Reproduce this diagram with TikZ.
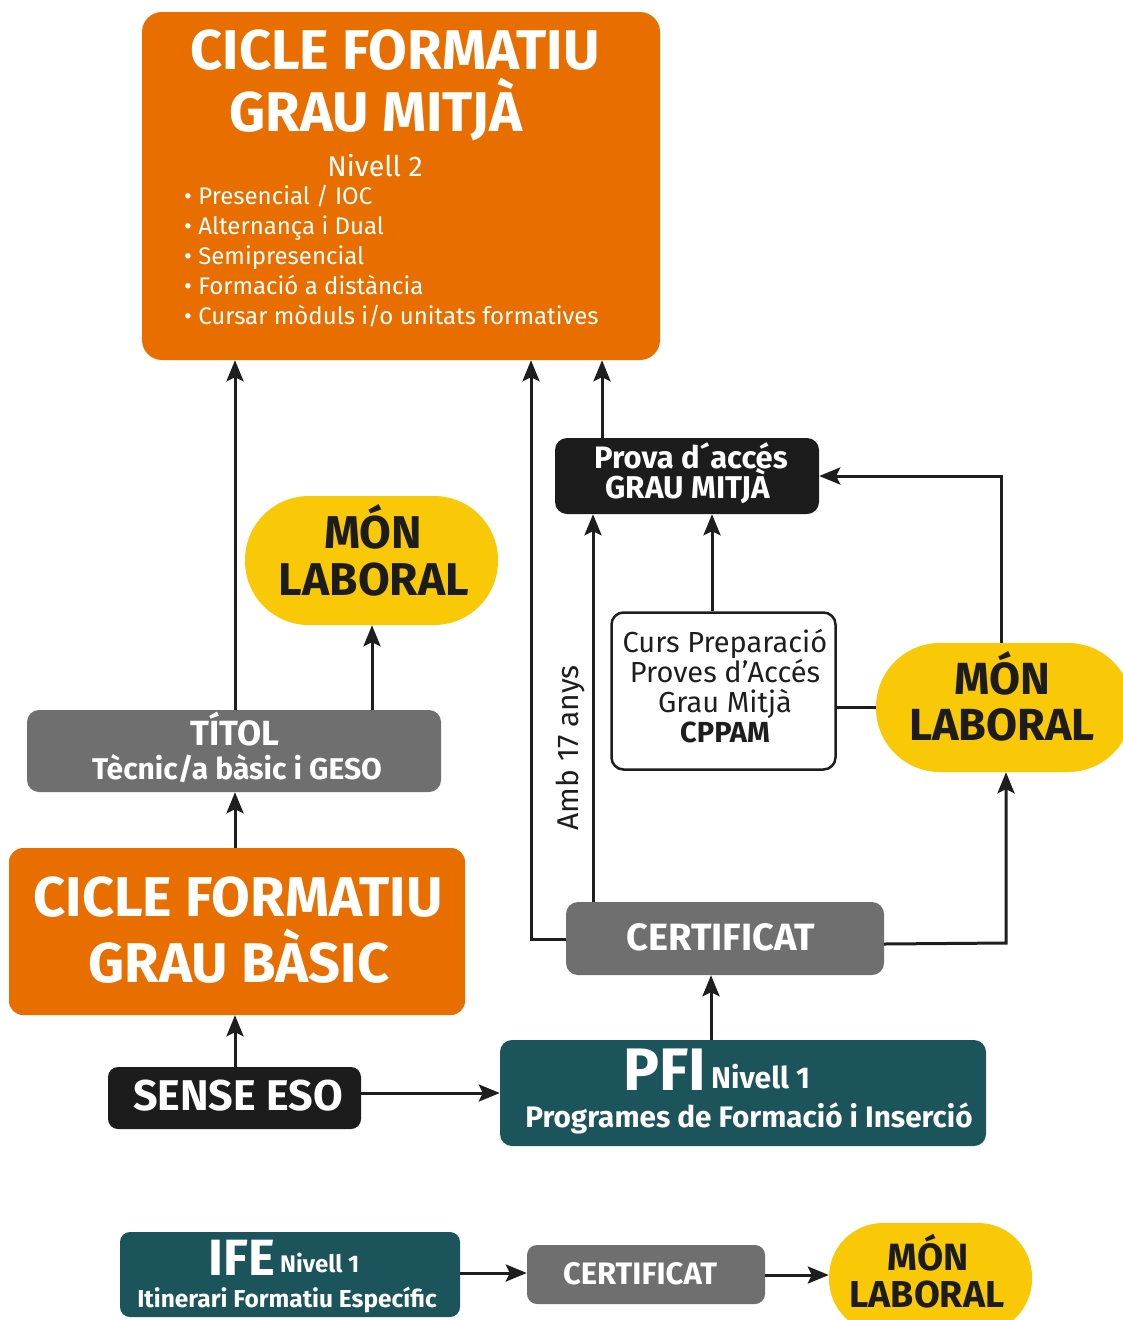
\documentclass[tikz,border=0pt]{standalone}
\usepackage{fontspec}
\setmainfont{Fira Sans}
\usetikzlibrary{arrows.meta}
\definecolor{corange}{RGB}{233,110,0}
\definecolor{cyellow}{RGB}{249,200,6}
\definecolor{cgray}{RGB}{111,111,111}
\definecolor{cteal}{RGB}{27,84,91}
\definecolor{cblack}{RGB}{28,28,28}
\definecolor{cline}{RGB}{30,30,30}
\newcommand\fsz[1]{\fontsize{#1}{#1}\selectfont}
\begin{document}
\begin{tikzpicture}[x=1pt,y=-1pt,
  box/.style={rounded corners=12pt, inner sep=0pt, anchor=center},
  pill/.style={inner sep=0pt, anchor=center, fill=cyellow},
  tb/.style={inner sep=0pt, anchor=base},
  tbw/.style={inner sep=0pt, anchor=base west, text=white, font=\fsz{24}},
  wt/.style={text=white},
  arr/.style={line width=3pt, draw=cline, -{Stealth[length=21pt,width=17pt,inset=4pt]}},
  ln/.style={line width=3pt, draw=cline}]
\useasboundingbox (0,0) rectangle (1123,1320);

% ---------- boxes ----------
\node[box, fill=corange, rounded corners=20pt, minimum width=518pt, minimum height=348pt] (cfgm) at (401,186) {};
\node[box, fill=cblack, minimum width=264pt, minimum height=76pt] (prova) at (687,476) {};
\node[pill, rounded corners=64pt, minimum width=253pt, minimum height=129pt] (mon1) at (371.5,560.5) {};
\node[box, fill=cgray, minimum width=414pt, minimum height=82pt] (titol) at (234,751) {};
\node[box, fill=corange, rounded corners=14pt, minimum width=456pt, minimum height=167pt] (cfgb) at (237,931.5) {};
\node[box, fill=cblack, rounded corners=10pt, minimum width=253pt, minimum height=62pt] (sense) at (234.5,1098) {};
\node[box, fill=cteal, minimum width=486pt, minimum height=106pt] (pfi) at (743,1093) {};
\node[box, fill=cgray, minimum width=318pt, minimum height=73pt] (cert) at (725,938.5) {};
\node[box, draw=cline, line width=2.5pt, fill=white, minimum width=224pt, minimum height=157pt] (cppam) at (723.5,691) {};
\node[pill, rounded corners=64pt, minimum width=256pt, minimum height=129pt] (mon2) at (1004,707.5) {};
\node[box, fill=cteal, rounded corners=10pt, minimum width=340pt, minimum height=85pt] (ife) at (290,1274.5) {};
\node[box, fill=cgray, rounded corners=10pt, minimum width=238pt, minimum height=59pt] (cert2) at (646,1274.5) {};
\node[pill, rounded corners=54pt, minimum width=203pt, minimum height=110pt] (mon3) at (930.5,1278) {};

% ---------- texts ----------
\node[tb, wt, font=\bfseries\fsz{56}] (cfgm1) at (395,69) {CICLE FORMATIU};
\node[tb, wt, font=\bfseries\fsz{56}] (cfgm2) at (376,131) {GRAU MITJÀ};
\node[tb, wt, font=\fsz{28.5}] (cfgm3) at (375,176) {Nivell 2};
\node[tbw] (b1) at (184,204) {• Presencial / IOC};
\node[tbw] (b2) at (184,234) {• Alternança i Dual};
\node[tbw] (b3) at (184,264) {• Semipresencial};
\node[tbw] (b4) at (184,294) {• Formació a distància};
\node[tbw] (b5) at (184,324) {• Cursar mòduls i/o unitats formatives};

\node[tb, wt, font=\bfseries\fsz{31}] (prova1) at (691,468) {Prova d´accés};
\node[tb, wt, font=\bfseries\fsz{31.5}] (prova2) at (688,498) {GRAU MITJÀ};

\node[tb, text=cblack, font=\bfseries\fsz{46}] (mon1a) at (373,548) {MÓN};
\node[tb, text=cblack, font=\bfseries\fsz{46}] (mon1b) at (374,595) {LABORAL};

\node[tb, wt, font=\bfseries\fsz{35}] (titol1) at (235,745) {TÍTOL};
\node[tb, wt, font=\bfseries\fsz{30}] (titol2) at (237,779) {Tècnic/a bàsic i GESO};

\node[tb, wt, font=\bfseries\fsz{56}] (cfgb1) at (238,916) {CICLE FORMATIU};
\node[tb, wt, font=\bfseries\fsz{56}] (cfgb2) at (239,982) {GRAU BÀSIC};

\node[tb, wt, font=\bfseries\fsz{43}] (sense1) at (238,1110) {SENSE ESO};

\node[tb, wt, font=\bfseries\fsz{60}] (pfi1) at (665,1090) {PFI};
\node[tb, wt, font=\bfseries\fsz{30}, anchor=base west] (pfi2) at (711,1088) {Nivell 1};
\node[tb, wt, font=\bfseries\fsz{29.7}] (pfi3) at (749,1127) {Programes de Formació i Inserció};

\node[tb, wt, font=\bfseries\fsz{38}] (cert1) at (721,950) {CERTIFICAT};

\node[tb, text=cline, font=\fsz{29}] (cp1) at (725,652) {Curs Preparació};
\node[tb, text=cline, font=\fsz{29}] (cp2) at (725,682) {Proves d’Accés};
\node[tb, text=cline, font=\fsz{29}] (cp3) at (725,712) {Grau Mitjà};
\node[tb, text=cline, font=\bfseries\fsz{29}] (cp4) at (725,742) {CPPAM};

\node[tb, text=cline, font=\fsz{30}, rotate=90] (amb) at (578,748) {Amb 17 anys};

\node[tb, text=cblack, font=\bfseries\fsz{45}] (mon2a) at (1002,694) {MÓN};
\node[tb, text=cblack, font=\bfseries\fsz{45}] (mon2b) at (1002,740) {LABORAL};

\node[tb, wt, font=\bfseries\fsz{51}] (ife1) at (242,1275) {IFE};
\node[tb, wt, font=\bfseries\fsz{24}, anchor=base west] (ife2) at (280,1272) {Nivell 1};
\node[tb, wt, font=\bfseries\fsz{24.5}] (ife3) at (287,1307) {Itinerari Formatiu Específic};

\node[tb, wt, font=\bfseries\fsz{31}] (cert2a) at (640,1284) {CERTIFICAT};

\node[tb, text=cblack, font=\bfseries\fsz{38}] (mon3a) at (928,1270) {MÓN};
\node[tb, text=cblack, font=\bfseries\fsz{37.5}] (mon3b) at (927,1307) {LABORAL};

% ---------- connectors ----------
\draw[arr] (235,0 |- titol.north) -- (235,0 |- cfgm.south);
\draw[arr] (372,0 |- titol.north) -- (372,0 |- mon1.south);
\draw[arr] (235,0 |- cfgb.north) -- (235,0 |- titol.south);
\draw[arr] (235,0 |- sense.north) -- (235,0 |- cfgb.south);
\draw[arr] (sense.east |- 0,1093) -- (pfi.west |- 0,1093);
\draw[arr] (711,0 |- pfi.north) -- (711,0 |- cert.south);
\draw[arr] (cert.west |- 0,939) -| (531,0 |- cfgm.south);
\draw[arr] (593,0 |- cert.north) -- (593,0 |- prova.south);
\draw[arr] (cert.east |- 0,944) -- (1006,943) -- (1006,0 |- mon2.south);
\draw[arr] (602,0 |- prova.north) -- (602,0 |- cfgm.south);
\draw[arr] (712,0 |- cppam.north) -- (712,0 |- prova.south);
\draw[ln] (cppam.east |- 0,707) -- (mon2.west |- 0,707);
\draw[arr] (1001,0 |- mon2.north) |- (prova.east);
\draw[arr] (ife.east |- 0,1273) -- (cert2.west |- 0,1273);
\draw[arr] (cert2.east |- 0,1275) -- (mon3.west |- 0,1275);
\end{tikzpicture}
\end{document}
